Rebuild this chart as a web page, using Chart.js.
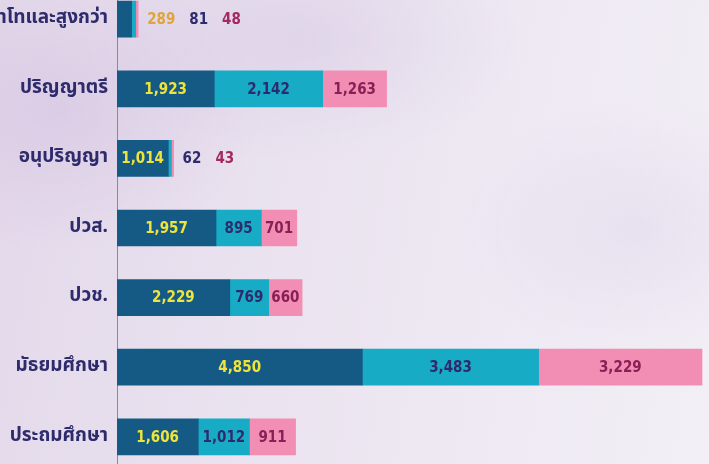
<!DOCTYPE html>
<html>
<head>
<meta charset="utf-8">
<script src="https://cdn.jsdelivr.net/npm/chart.js@4"></script>
<style>
  html, body {
    margin: 0;
    width: 709px;
    height: 464px;
    overflow: hidden;
  }
  body {
    background:
      radial-gradient(ellipse 200px 140px at 60px 110px, rgba(200, 178, 218, 0.35), rgba(200, 178, 218, 0)),
      radial-gradient(ellipse 220px 120px at 300px 40px, rgba(205, 188, 222, 0.35), rgba(205, 188, 222, 0)),
      radial-gradient(ellipse 180px 130px at 640px 230px, rgba(214, 198, 228, 0.3), rgba(214, 198, 228, 0)),
      linear-gradient(100deg, #e3d8ea 0%, #ebe4f0 45%, #f2eff6 100%);
  }
  .wrap {
    position: absolute;
    left: 0;
    top: -36px;
    width: 709px;
    height: 528px;
  }
</style>
</head>
<body>
<div class="wrap"><canvas id="chart"></canvas></div>
<script>
// Education levels, top to bottom
const levels = [
  "ปริญญาโทและสูงกว่า",
  "ปริญญาตรี",
  "อนุปริญญา",
  "ปวส.",
  "ปวช.",
  "มัธยมศึกษา",
  "ประถมศึกษา",
];

// Three stacked groups
const seriesA = [289, 1923, 1014, 1957, 2229, 4850, 1606];
const seriesB = [81, 2142, 62, 895, 769, 3483, 1012];
const seriesC = [48, 1263, 43, 701, 660, 3229, 911];

const barColors = ["#155a84", "#17abc5", "#f28db3"];
const insideText = ["#efe43c", "#2e2b6c", "#8a1f56"];
const outsideText = ["#dfa53c", "#2e2b6c", "#a3295f"];

const numFont = "bold 15px 'Liberation Sans Narrow', 'DejaVu Sans Condensed', sans-serif";

// Draw values in each segment, or after the bar when the segment is too thin
const valueLabels = {
  id: "valueLabels",
  afterDatasetsDraw(chart) {
    const ctx = chart.ctx;
    ctx.save();
    ctx.font = numFont;
    ctx.textBaseline = "middle";
    const nextX = {};
    chart.data.datasets.forEach((ds, di) => {
      const meta = chart.getDatasetMeta(di);
      meta.data.forEach((bar, i) => {
        const text = ds.data[i].toLocaleString("en-US");
        const w = ctx.measureText(text).width;
        const left = Math.min(bar.base, bar.x);
        const width = Math.abs(bar.x - bar.base);
        if (width > 20) {
          ctx.fillStyle = insideText[di];
          ctx.textAlign = "center";
          ctx.fillText(text, left + width / 2, bar.y + 1);
        } else {
          // place after the end of the whole stack
          let end = 0;
          chart.data.datasets.forEach((d2, dj) => {
            end = Math.max(end, chart.getDatasetMeta(dj).data[i].x);
          });
          const x = nextX[i] !== undefined ? nextX[i] : end + 9;
          ctx.fillStyle = outsideText[di];
          ctx.textAlign = "left";
          ctx.fillText(text, x, bar.y + 1);
          nextX[i] = x + w + 14;
        }
      });
    });
    ctx.restore();
  },
};

new Chart(document.getElementById("chart").getContext("2d"), {
  type: "bar",
  data: {
    labels: levels,
    datasets: [seriesA, seriesB, seriesC].map((values, k) => ({
      data: values,
      backgroundColor: barColors[k],
      borderWidth: 0,
      barThickness: 36,
    })),
  },
  options: {
    indexAxis: "y",
    responsive: true,
    maintainAspectRatio: false,
    animation: false,
    layout: { padding: 0 },
    plugins: {
      legend: { display: false },
      tooltip: { enabled: false },
    },
    scales: {
      x: {
        stacked: true,
        display: false,
        min: 0,
        max: 11700,
      },
      y: {
        stacked: true,
        afterFit: (scale) => {
          scale.width = 117;
        },
        grid: { display: false, drawTicks: false },
        border: { display: true, color: "#8c8a90", width: 1 },
        ticks: {
          padding: 9,
          color: "#2d2b6b",
          font: {
            family: "'Noto Sans Thai', 'Noto Sans', sans-serif",
            size: 19,
            weight: "bold",
          },
        },
      },
    },
  },
  plugins: [valueLabels],
});
</script>
</body>
</html>
